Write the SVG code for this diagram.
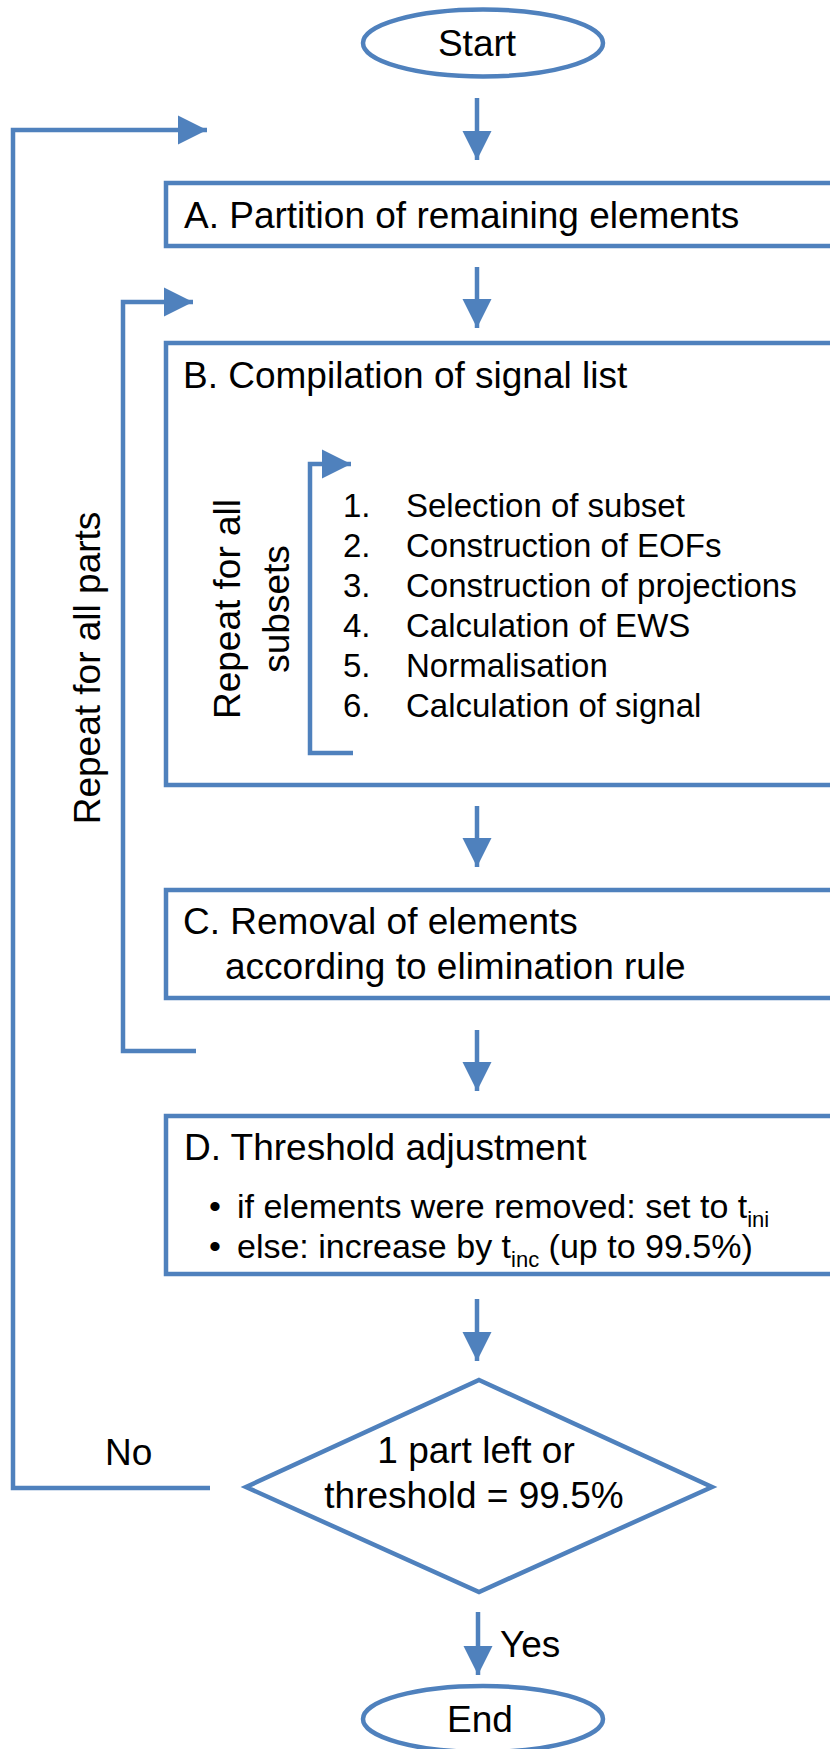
<svg xmlns="http://www.w3.org/2000/svg" width="830" height="1749" viewBox="0 0 830 1749">
<style>
  .shape { fill: #FFFFFF; stroke: #4F81BD; stroke-width: 4.5; }
  .line { fill: none; stroke: #4F81BD; stroke-width: 4.5; }
  text { font-family: "Liberation Sans", Arial, sans-serif; fill: #000000; }
  .t37 { font-size: 37px; }
  .t33 { font-size: 33px; }
  .t34 { font-size: 34px; }
  .mid { text-anchor: middle; }
</style>
<defs>
  <marker id="ah" markerWidth="7" markerHeight="7" refX="6.5" refY="3.25" orient="auto" markerUnits="strokeWidth">
    <path d="M0,0 L6.5,3.25 L0,6.5 Z" fill="#4F81BD"/>
  </marker>
</defs>

<rect width="830" height="1749" fill="#FFFFFF"/>

<g id="start">
  <ellipse class="shape" cx="483" cy="43" rx="120" ry="33.5"/>
  <text class="t37 mid" x="477" y="56">Start</text>
</g>

<g id="boxA">
  <rect class="shape" x="166" y="183" width="700" height="63"/>
  <text class="t37" x="184" y="228">A. Partition of remaining elements</text>
</g>

<g id="boxB">
  <rect class="shape" x="166" y="343" width="700" height="442"/>
  <text class="t37" x="183" y="388">B. Compilation of signal list</text>
  <text class="t33" x="343" y="517">1.</text><text class="t33" x="406" y="517">Selection of subset</text>
  <text class="t33" x="343" y="557">2.</text><text class="t33" x="406" y="557">Construction of EOFs</text>
  <text class="t33" x="343" y="597">3.</text><text class="t33" x="406" y="597">Construction of projections</text>
  <text class="t33" x="343" y="637">4.</text><text class="t33" x="406" y="637">Calculation of EWS</text>
  <text class="t33" x="343" y="677">5.</text><text class="t33" x="406" y="677">Normalisation</text>
  <text class="t33" x="343" y="717">6.</text><text class="t33" x="406" y="717">Calculation of signal</text>
</g>

<g id="boxC">
  <rect class="shape" x="166" y="890" width="700" height="108"/>
  <text class="t37" x="183" y="934">C. Removal of elements</text>
  <text class="t37" x="225" y="979">according to elimination rule</text>
</g>

<g id="boxD">
  <rect class="shape" x="166" y="1116" width="700" height="158"/>
  <text class="t37" x="184" y="1160">D. Threshold adjustment</text>
  <text class="t34" x="209" y="1218">•</text>
  <text class="t34" x="237" y="1218">if elements were removed: set to t<tspan font-size="22" dy="9">ini</tspan></text>
  <text class="t34" x="209" y="1258">•</text>
  <text class="t34" x="237" y="1258">else: increase by t<tspan font-size="22" dy="9">inc</tspan><tspan dy="-9"> (up to 99.5%)</tspan></text>
</g>

<g id="decision">
  <polygon class="shape" points="479,1380 712,1487 479,1592 246,1487"/>
  <text class="t37 mid" x="476" y="1463">1 part left or</text>
  <text class="t37 mid" x="474" y="1508">threshold = 99.5%</text>
</g>

<g id="end">
  <ellipse class="shape" cx="483" cy="1719" rx="120" ry="33"/>
  <text class="t37 mid" x="480" y="1732">End</text>
</g>

<g id="connectors">
  <line class="line" x1="477" y1="98" x2="477" y2="160" marker-end="url(#ah)"/>
  <line class="line" x1="477" y1="267" x2="477" y2="328" marker-end="url(#ah)"/>
  <line class="line" x1="477" y1="806" x2="477" y2="867" marker-end="url(#ah)"/>
  <line class="line" x1="477" y1="1030" x2="477" y2="1091" marker-end="url(#ah)"/>
  <line class="line" x1="477" y1="1299" x2="477" y2="1361" marker-end="url(#ah)"/>
  <line class="line" x1="478" y1="1612" x2="478" y2="1675" marker-end="url(#ah)"/>
  <polyline class="line" points="210,1488 13,1488 13,130 207,130" marker-end="url(#ah)"/>
  <polyline class="line" points="196,1051 123,1051 123,302 193,302" marker-end="url(#ah)"/>
  <polyline class="line" points="353,753 310,753 310,464 351,464" marker-end="url(#ah)"/>
  <text class="t37" x="105" y="1465">No</text>
  <text class="t37" x="500" y="1657">Yes</text>
  <text class="t37 mid" transform="translate(100,668) rotate(-90)">Repeat for all parts</text>
  <text class="t37 mid" transform="translate(240,609) rotate(-90)">Repeat for all</text>
  <text class="t37 mid" transform="translate(289,609) rotate(-90)">subsets</text>
</g>
</svg>
